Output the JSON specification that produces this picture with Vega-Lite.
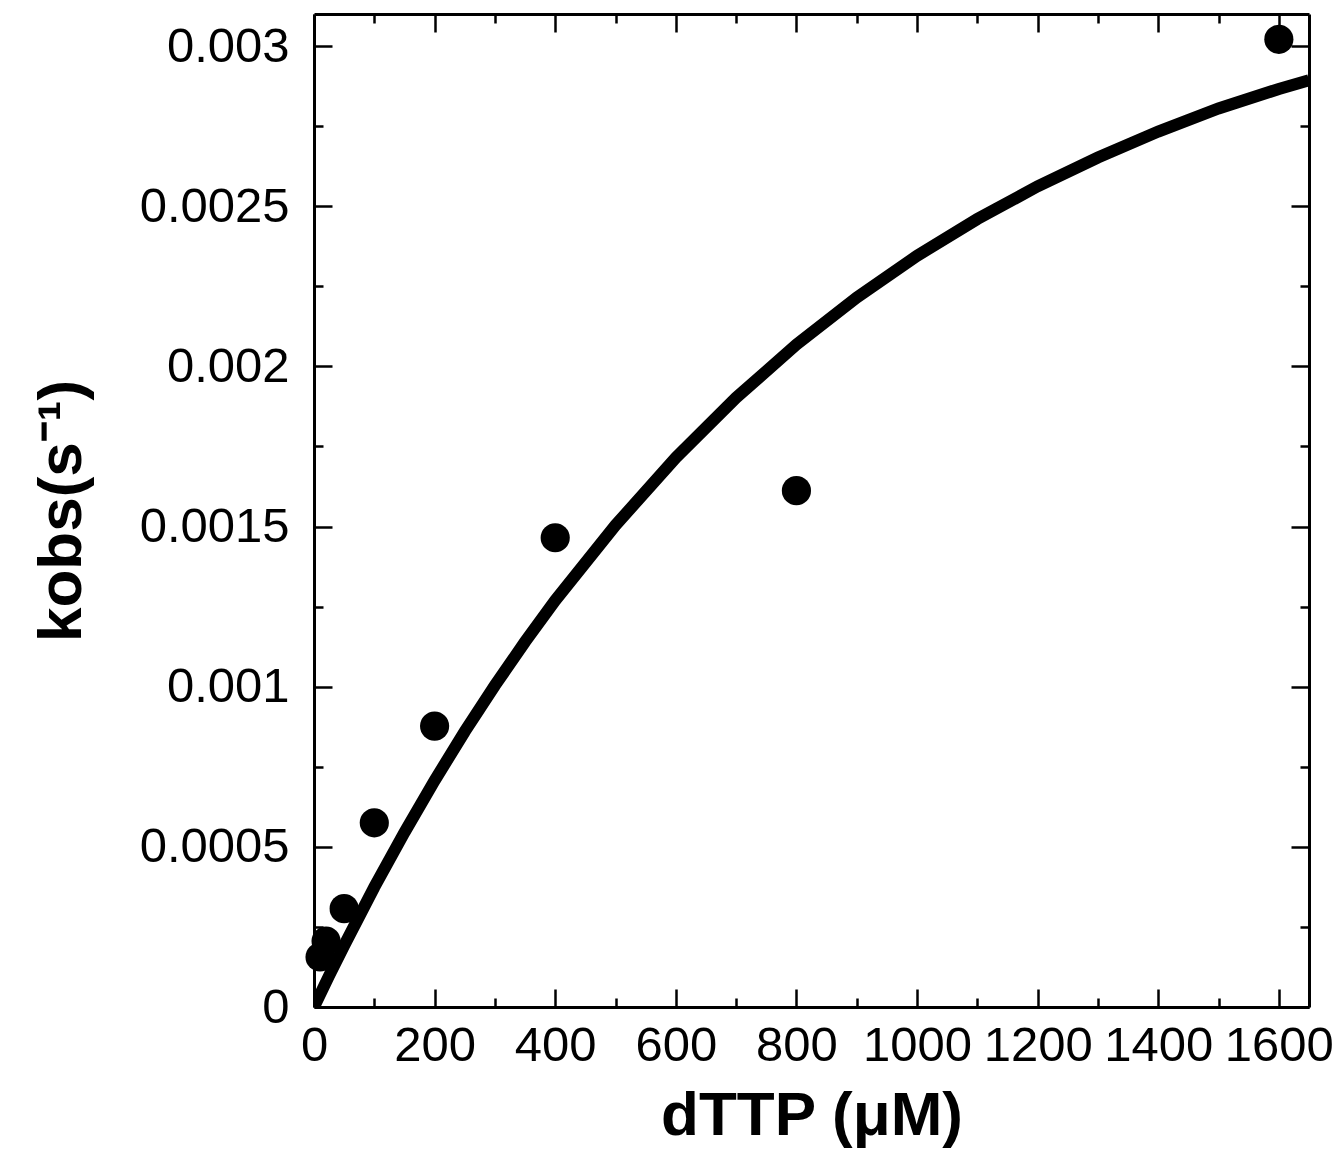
{
  "$schema": "https://vega.github.io/schema/vega-lite/v6.json",
  "width": 995,
  "height": 993,
  "autosize": "none",
  "padding": {"left": 314, "top": 14, "right": 27, "bottom": 153},
  "background": "white",
  "config": {"view": {"stroke": null}, "font": "Liberation Sans"},
  "datasets": {
    "obs": [
      {"dTTP": 10, "kobs": 0.000156},
      {"dTTP": 20, "kobs": 0.000206},
      {"dTTP": 50, "kobs": 0.000307},
      {"dTTP": 100, "kobs": 0.000575},
      {"dTTP": 200, "kobs": 0.000877},
      {"dTTP": 400, "kobs": 0.001465},
      {"dTTP": 800, "kobs": 0.001612},
      {"dTTP": 1600, "kobs": 0.003021}
    ],
    "fit": [
      {"dTTP": 0, "kobs": 0},
      {"dTTP": 25, "kobs": 0.0000976},
      {"dTTP": 50, "kobs": 0.000192},
      {"dTTP": 100, "kobs": 0.000374},
      {"dTTP": 150, "kobs": 0.000545},
      {"dTTP": 200, "kobs": 0.000707},
      {"dTTP": 250, "kobs": 0.00086},
      {"dTTP": 300, "kobs": 0.001004},
      {"dTTP": 350, "kobs": 0.00114},
      {"dTTP": 400, "kobs": 0.001269},
      {"dTTP": 500, "kobs": 0.001504},
      {"dTTP": 600, "kobs": 0.001715},
      {"dTTP": 700, "kobs": 0.001902},
      {"dTTP": 800, "kobs": 0.002068},
      {"dTTP": 900, "kobs": 0.002215},
      {"dTTP": 1000, "kobs": 0.002345},
      {"dTTP": 1100, "kobs": 0.00246},
      {"dTTP": 1200, "kobs": 0.002562},
      {"dTTP": 1300, "kobs": 0.002652},
      {"dTTP": 1400, "kobs": 0.002733},
      {"dTTP": 1500, "kobs": 0.002805},
      {"dTTP": 1600, "kobs": 0.002866},
      {"dTTP": 1650, "kobs": 0.002893}
    ]
  },
  "layer": [
    {
      "data": {"name": "fit"},
      "mark": {"type": "line", "color": "black", "strokeWidth": 12, "strokeCap": "butt", "clip": true},
      "encoding": {
        "x": {
          "field": "dTTP", "type": "quantitative",
          "scale": {"domain": [0, 1650], "nice": false, "zero": false},
          "axis": {
            "orient": "bottom",
            "title": "dTTP (μM)",
            "titleFont": "Liberation Sans", "titleFontSize": 62, "titleFontWeight": "bold", "titleColor": "black",
            "titlePadding": 6,
            "values": [0,100,200,300,400,500,600,700,800,900,1000,1100,1200,1300,1400,1500,1600],
            "format": "d",
            "labelExpr": "datum.value % 200 === 0 ? datum.label : ''",
            "labelFont": "Liberation Sans", "labelFontSize": 49, "labelColor": "black", "labelPadding": 32,
            "labelFlush": false, "labelOverlap": false,
            "tickSize": {"condition": {"test": "datum.value % 200 === 0", "value": -18}, "value": -9},
            "tickColor": "black", "tickWidth": 2.5,
            "domainColor": "black", "domainWidth": 3,
            "grid": false
          }
        },
        "y": {
          "field": "kobs", "type": "quantitative",
          "scale": {"domain": [0, 0.0031], "nice": false, "zero": false},
          "axis": {
            "orient": "left",
            "title": "kobs(s⁻¹)",
            "titleFont": "Liberation Sans", "titleFontSize": 62, "titleFontWeight": "bold", "titleColor": "black",
            "titlePadding": 46,
            "values": [0,0.00025,0.0005,0.00075,0.001,0.00125,0.0015,0.00175,0.002,0.00225,0.0025,0.00275,0.003],
            "format": "~g",
            "labelExpr": "round(datum.value * 4000) % 2 === 0 ? datum.label : ''",
            "labelFont": "Liberation Sans", "labelFontSize": 49, "labelColor": "black", "labelPadding": 43,
            "labelFlush": false, "labelOverlap": false,
            "tickSize": {"condition": {"test": "round(datum.value * 4000) % 2 === 0", "value": -18}, "value": -9},
            "tickColor": "black", "tickWidth": 2.5,
            "domainColor": "black", "domainWidth": 3,
            "grid": false
          }
        }
      }
    },
    {
      "data": {"name": "obs"},
      "mark": {"type": "point", "filled": true, "color": "black", "opacity": 1, "size": 850, "clip": false},
      "encoding": {
        "x": {
          "field": "dTTP", "type": "quantitative",
          "axis": {
            "orient": "top", "title": null, "labels": false,
            "values": [0,100,200,300,400,500,600,700,800,900,1000,1100,1200,1300,1400,1500,1600],
            "tickSize": {"condition": {"test": "datum.value % 200 === 0", "value": -18}, "value": -9},
            "tickColor": "black", "tickWidth": 2.5,
            "domainColor": "black", "domainWidth": 3,
            "grid": false
          }
        },
        "y": {
          "field": "kobs", "type": "quantitative",
          "axis": {
            "orient": "right", "title": null, "labels": false,
            "values": [0,0.00025,0.0005,0.00075,0.001,0.00125,0.0015,0.00175,0.002,0.00225,0.0025,0.00275,0.003],
            "tickSize": {"condition": {"test": "round(datum.value * 4000) % 2 === 0", "value": -18}, "value": -9},
            "tickColor": "black", "tickWidth": 2.5,
            "domainColor": "black", "domainWidth": 3,
            "grid": false
          }
        }
      }
    }
  ],
  "resolve": {"axis": {"x": "independent", "y": "independent"}}
}
